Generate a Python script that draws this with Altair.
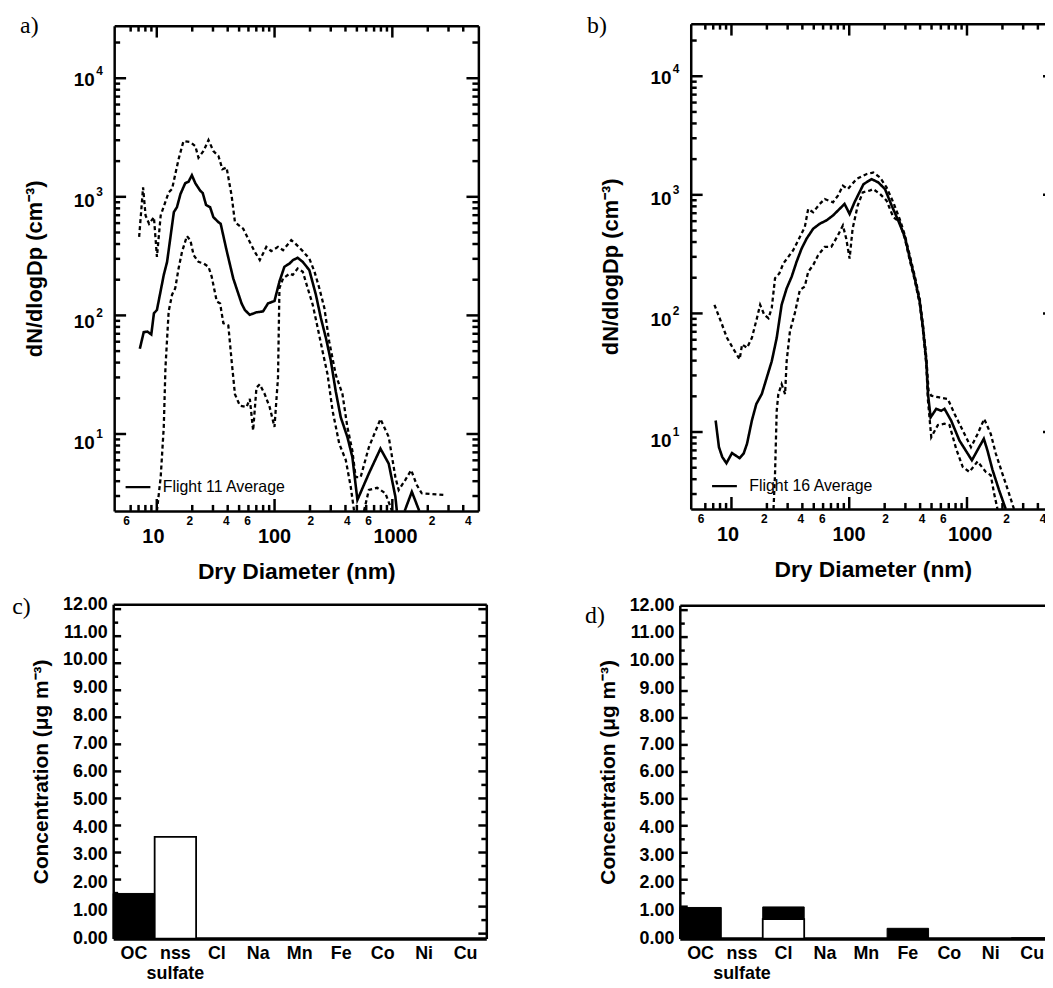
import altair as alt
import pandas as pd

# ---------------- data ----------------
A_MEAN_1_D = [7.8, 8.4, 9.0, 9.7, 10.2, 10.8, 12.3, 13.1, 14.9, 15.8, 16.9, 18.5, 19.7, 21.0, 22.4, 24.6,
              25.8, 27.5, 29.7, 31.6, 34.8, 36.3, 40.6, 46.1, 54.0, 57.5, 63.1, 71.6, 81.3, 89.3, 101, 111,
              122, 135, 143, 157, 173, 196, 222, 244, 269, 295, 324, 356, 404, 444, 489, 608, 758, 887,
              1007, 1035]
A_MEAN_1_N = [54, 74, 75, 71, 106, 113, 220, 282, 726, 798, 1025, 1260, 1295, 1466, 1260, 1093,
              1045, 832, 798, 660, 600, 582, 352, 206, 128, 113, 103, 108, 110, 128, 134, 194,
              257, 274, 291, 305, 282, 241, 151, 97, 66, 43, 24, 14.7, 10.1, 6.9, 3.05, 5.04, 8.08, 6.08,
              3.24, 2.47]
A_MEAN_2_D = [1202, 1377, 1585]
A_MEAN_2_N = [2.47, 3.56, 2.47]

A_UP_D = [7.7, 8.3, 8.7, 9.3, 10.2, 10.8, 11.6, 13.5, 14.4, 16.3, 17.9, 20.4, 22.4, 23.8, 26.2, 28.8,
          31.6, 34.8, 37.5, 40.6, 44.7, 47.6, 55.7, 61.2, 69.5, 76.4, 86.5, 95, 108, 119, 139, 150,
          173, 196, 216, 237, 261, 286, 324, 368, 404, 444, 473, 520, 608, 758, 887, 1007, 1072, 1214,
          1360, 1514, 1663, 2505]
A_UP_N = [453, 1163, 682, 582, 660, 310, 682, 1058, 1127, 1987, 2805, 2754, 2553, 2047, 2322, 2865,
          2322, 2113, 1643, 1698, 994, 601, 530, 438, 341, 292, 375, 346, 375, 352, 426, 400,
          346, 300, 235, 171, 117, 62, 33, 22.8, 12.2, 7.8, 4.7, 4.7, 8.3, 14.2, 10.1, 4.7, 3.68, 4.45,
          5.37, 4.04, 3.46, 3.35]

A_LO_1_D = [10.8, 11.6, 12.3, 12.7, 13.5, 14.4, 15.3, 16.3, 17.4, 19.1, 20.4, 21.7, 23.8, 26.2, 28.8,
            30.6, 33.7, 35.9, 38.2, 42.0, 44.7, 47.6, 52.3, 59.3, 63.2, 67.3, 71.7, 76.4, 83.9, 92.2,
            101, 108, 111, 119, 135, 143, 157, 173, 190, 209, 230, 252, 277, 305, 346, 392, 431, 459]
A_LO_1_N = [2.47, 4.7, 12.2, 37.7, 110, 151, 171, 249, 341, 461, 425, 321, 282, 274, 257,
            213, 133, 128, 88, 84, 43, 22.8, 18.3, 17.8, 20.8, 11.4, 25.8, 27.5, 22.8, 17.8,
            12.2, 31.2, 171, 206, 226, 220, 249, 234, 171, 125, 80, 51.6, 33.3, 16.6, 8.9, 6.5, 3.9, 2.47]
A_LO_2_D = [554, 608, 711, 832, 944]
A_LO_2_N = [2.47, 3.68, 3.84, 3.46, 2.47]

B_MEAN_D = [7.98, 8.5, 9.05, 9.8, 10.9, 11.6, 12.6, 13.6, 14.5, 15.9, 17.3, 19.2, 21.1, 23.2, 25.5,
            28.0, 30.8, 33.9, 37.2, 40.9, 45.0, 51.0, 57.8, 65.6, 74.4, 81.7, 92.7, 102, 112, 123,
            133, 155, 176, 200, 227, 257, 292, 321, 352, 387, 412, 439, 453, 476, 530,
            582, 620, 703, 823, 1044, 1310, 1405, 1545, 1750, 1985]
B_MEAN_N = [13.3, 8.0, 6.65, 5.9, 7.16, 6.86, 6.5, 7.1, 8.55, 13.3, 18.2, 22, 30, 41, 64,
            120, 164, 205, 272, 349, 422, 510, 561, 597, 657, 721, 817, 676, 844, 1019,
            1192, 1310, 1231, 1084, 793, 597, 436, 290, 199, 128, 77, 41, 22, 14.1, 16.6,
            16, 16.6, 13.3, 9.1, 6.24, 9.4, 7.5, 5.2, 3.54, 2.47]

B_UP_D = [7.8, 8.8, 9.9, 11.3, 12.6, 13.2, 14.5, 15.9, 17.5, 18.6, 20.1, 21.8, 23.2, 24.7, 26.8,
          28.9, 31.8, 34.9, 39.6, 43.5, 46.4, 51.0, 57.8, 63.5, 74.4, 81.7, 89.8, 98.6, 116, 140,
          160, 182, 206, 234, 265, 292, 321, 352, 387, 412, 439, 458, 482, 565, 661, 750,
          877, 1026, 1164, 1320, 1495, 1644, 1864, 2113, 2323]
B_UP_N = [120, 88, 64, 51, 42.6, 56.5, 53, 64, 93, 120, 99.5, 93, 113, 199, 218,
          263, 299, 339, 436, 526, 743, 698, 817, 898, 844, 957, 1156, 1084, 1310, 1439,
          1486, 1352, 1120, 844, 610, 450, 305, 208, 135, 82, 44, 23.4, 21.3, 20.6, 20, 15.1,
          11, 8.0, 10.3, 13.7, 10.3, 7.1, 4.85, 3.33, 2.47]

B_LO_D = [24.0, 24.7, 25.5, 26.3, 28.0, 29.9, 30.8, 32.8, 36.0, 39.6, 43.5, 46.4, 51.0, 56.0, 63.5,
          72.0, 81.7, 89.8, 95.7, 102, 108, 119, 131, 149, 160, 182, 206, 234, 265, 292,
          321, 352, 387, 412, 439, 453, 482, 547, 620, 682, 773, 877, 995, 1164, 1361,
          1495, 1592, 1698]
B_LO_N = [2.47, 4.85, 16, 22, 26.5, 22, 41, 72.6, 102.5, 159, 170, 225, 255, 308, 361,
          361, 450, 543, 422, 289, 510, 793, 1019, 1052, 1084, 987, 871, 636, 580, 420,
          278, 192, 122, 73, 38, 19.4, 9.7, 12.2, 12.5, 12.2, 7.8, 5.5, 5.0, 6.1, 5.0,
          4.7, 3.33, 2.47]

CATS = ["OC", "nss sulfate", "Cl", "Na", "Mn", "Fe", "Co", "Ni", "Cu"]
C_LIGHT = [0, 3.65, 0, 0, 0, 0, 0, 0, 0]
C_DARK = [1.62, 0, 0, 0, 0, 0, 0, 0, 0]
D_LIGHT = [0, 0, 0.70, 0, 0, 0, 0, 0, 0]
D_DARK = [1.12, 0, 0.44, 0, 0, 0.37, 0, 0, 0.03]

X_MINOR_TICKS = [6, 7, 8, 9, 20, 30, 40, 50, 60, 70, 80, 90, 200, 300, 400, 500, 600, 700, 800,
                 900, 2000, 3000, 4000]
X_MAJOR = [10, 100, 1000]
X_MAJOR_LABELS = ["10", "100", "1000"]
X_MINOR_VALUES = [6, 20, 40, 60, 200, 400, 600, 2000, 4000]
X_MINOR_LABELS = ["6", "2", "4", "6", "2", "4", "6", "2", "4"]
Y_MINOR_TICKS = [3, 4, 5, 6, 7, 8, 9, 20, 30, 40, 50, 60, 70, 80, 90, 200, 300, 400, 500, 600,
                 700, 800, 900, 2000, 3000, 4000, 5000, 6000, 7000, 8000, 9000, 20000]
Y_MAJOR = [10, 100, 1000, 10000]
Y_MAJOR_BASE = ["10", "10", "10", "10"]
Y_MAJOR_EXP = ["1", "2", "3", "4"]
BAR_MAJOR = [0, 1, 2, 3, 4, 5, 6, 7, 8, 9, 10, 11, 12]
BAR_MINOR = [0.5, 1.5, 2.5, 3.5, 4.5, 5.5, 6.5, 7.5, 8.5, 9.5, 10.5, 11.5]

FONT = "Liberation Sans"
SERIF = "Liberation Serif"
W, H = 1045, 980
M = 8
TICK_W = 2.5
FRAME_W = 2.5


def label_expr(values, labels):
    expr = "''"
    for v, lab in reversed(list(zip(values, labels))):
        expr = f"datum.value == {v} ? '{lab}' : {expr}"
    return expr


def ax(**kw):
    base = dict(grid=False, domainColor="black", tickColor="black", labelColor="black",
                titleColor="black", labelFont=FONT, titleFont=FONT, labelFontWeight="bold",
                titleFontWeight="bold", labelFlush=False, labelOverlap=False, ticks=False,
                domainWidth=FRAME_W, title=None)
    base.update(kw)
    return alt.Axis(**base)


def letter_title(letter, tx, ty):
    return dict(title=letter, titleFont=SERIF, titleFontWeight="normal", titleFontSize=24,
                titleX=tx, titleY=ty, titleAlign="center", titleBaseline="middle", titleAngle=0)


def line_df(segments, series=None):
    rows = []
    for i, (ds, ns) in enumerate(segments):
        for d, n in zip(ds, ns):
            rows.append({"D": d, "N": n, "seg": i, "series": series or "band"})
    return pd.DataFrame(rows)


def tick_bars(values, scale_fn, channel, frac_scale_fn, f0, f1):
    """Inward tick marks as thin bars: value on the panel scale, extent as a fraction
    of the panel's other dimension."""
    df = pd.DataFrame({"v": values, "f0": [f0] * len(values), "f1": [f1] * len(values)})
    if channel == "x":
        enc = dict(x=alt.X("v:Q", scale=scale_fn(), axis=None),
                   y=alt.Y("f0:Q", scale=frac_scale_fn(), axis=None), y2="f1:Q")
    else:
        enc = dict(y=alt.Y("v:Q", scale=scale_fn(), axis=None),
                   x=alt.X("f0:Q", scale=frac_scale_fn(), axis=None), x2="f1:Q")
    return alt.Chart(df).mark_bar(color="black", size=TICK_W, opacity=1).encode(**enc)


def log_panel(L, R, T, B, xdom, ydom, mean_segs, up_segs, lo_segs, name, letter, letter_xy,
              legend_xy, ytitle_cx):
    l, r, t, b = L - M, R - M, T - M, B - M

    def xs():
        return alt.Scale(type="log", domain=xdom, range=[l, r], clamp=True, nice=False)

    def ys():
        return alt.Scale(type="log", domain=ydom, range=[b, t], clamp=True, nice=False)

    def fx():
        return alt.Scale(type="linear", domain=[0, 1], range=[l, r], nice=False, zero=False)

    def fy():
        return alt.Scale(type="linear", domain=[0, 1], range=[b, t], nice=False, zero=False)

    mean = line_df(mean_segs, name)
    up = line_df(up_segs)
    lo = line_df(lo_segs)

    def axl(xaxis, yaxis):
        return alt.Chart(mean).mark_point(opacity=0).encode(
            x=alt.X("D:Q", scale=xs(), axis=xaxis),
            y=alt.Y("N:Q", scale=ys(), axis=yaxis))

    hx = b - t
    wx = r - l
    layers = [
        axl(ax(orient="bottom", offset=b - H, values=X_MINOR_VALUES,
               labelExpr=label_expr(X_MINOR_VALUES, X_MINOR_LABELS),
               labelFontSize=12, labelPadding=5),
            ax(orient="left", offset=-l, values=Y_MAJOR,
               labelExpr=label_expr(Y_MAJOR, Y_MAJOR_BASE),
               labelFontSize=19, labelPadding=20, labelOffset=5,
               title="dN/dlogDp (cm\u207b\u00b3)", titleFontSize=22, titleAngle=270,
               titleX=ytitle_cx - L, titleY=(t + b) / 2, titleAlign="center",
               titleBaseline="middle")),
        axl(ax(orient="bottom", offset=b - H, values=X_MAJOR,
               labelExpr=label_expr(X_MAJOR, X_MAJOR_LABELS), domain=False,
               labelFontSize=20, labelPadding=16, title="Dry Diameter (nm)", titleFontSize=23,
               titleX=(l + r) / 2, titleY=61, titleAlign="center", titleBaseline="middle"),
            ax(orient="left", offset=-l, values=Y_MAJOR,
               labelExpr=label_expr(Y_MAJOR, Y_MAJOR_EXP), domain=False,
               labelFontSize=12, labelPadding=12, labelOffset=-4)),
        axl(ax(orient="bottom", offset=t - H, labels=False,
               **letter_title(letter, letter_xy[0] - M, letter_xy[1] - T)),
            ax(orient="left", offset=-r, labels=False)),
    ]
    for df in (up, lo):
        layers.append(alt.Chart(df).mark_line(color="black", strokeWidth=2.3, strokeDash=[4, 3]).encode(
            x=alt.X("D:Q", scale=xs(), axis=None),
            y=alt.Y("N:Q", scale=ys(), axis=None),
            detail="seg:N"))
    layers.append(alt.Chart(mean).mark_line(color="black", strokeWidth=2.6).encode(
        x=alt.X("D:Q", scale=xs(), axis=None),
        y=alt.Y("N:Q", scale=ys(), axis=None),
        detail="seg:N",
        strokeDash=alt.StrokeDash("series:N", scale=alt.Scale(domain=[name], range=[[1, 0]]),
                                  legend=alt.Legend(orient="none", legendX=legend_xy[0] - M,
                                                    legendY=legend_xy[1] - M, title=None,
                                                    symbolType="stroke", symbolSize=625,
                                                    symbolStrokeWidth=2.4, symbolStrokeColor="black",
                                                    labelFont=FONT, labelFontSize=16,
                                                    labelFontWeight="normal", labelColor="black",
                                                    labelOffset=11, padding=0))))
    layers += [
        tick_bars(X_MAJOR, xs, "x", fy, 0, 12 / hx),
        tick_bars(X_MINOR_TICKS, xs, "x", fy, 0, 6 / hx),
        tick_bars(X_MAJOR, xs, "x", fy, 1, 1 - 12 / hx),
        tick_bars(X_MINOR_TICKS, xs, "x", fy, 1, 1 - 6 / hx),
        tick_bars(Y_MAJOR, ys, "y", fx, 0, 12 / wx),
        tick_bars(Y_MINOR_TICKS, ys, "y", fx, 0, 6 / wx),
        tick_bars(Y_MAJOR, ys, "y", fx, 1, 1 - 12 / wx),
        tick_bars(Y_MINOR_TICKS, ys, "y", fx, 1, 1 - 6 / wx),
    ]
    return layers


def bar_panel(L, R, T, B, light, dark, letter, letter_xy, ytitle_cx):
    l, r, t, b = L - M, R - M, T - M, B - M

    def xs():
        return alt.Scale(type="band", domain=CATS, range=[l, r], paddingInner=0, paddingOuter=0)

    def ys():
        return alt.Scale(domain=[0, 12], range=[b, t], nice=False, zero=False)

    def fx():
        return alt.Scale(type="linear", domain=[0, 1], range=[l, r], nice=False, zero=False)

    base = pd.DataFrame({"cat": CATS, "lo": [0.0] * len(CATS), "hi": light})
    top = pd.DataFrame({"cat": CATS, "lo": light, "hi": [a + d for a, d in zip(light, dark)],
                        "dark": dark})

    def axl(xaxis, yaxis):
        return alt.Chart(base).mark_point(opacity=0).encode(
            x=alt.X("cat:N", scale=xs(), axis=xaxis),
            y=alt.Y("hi:Q", scale=ys(), axis=yaxis))

    wx = r - l
    layers = [
        axl(ax(orient="bottom", offset=t - H, labels=False,
               **letter_title(letter, letter_xy[0] - M, letter_xy[1] - T)),
            ax(orient="left", offset=-l, values=BAR_MAJOR, format=".2f",
               labelFontSize=18, labelPadding=6,
               title="Concentration (\u03bcg m\u207b\u00b3)", titleFontSize=21, titleAngle=270,
               titleX=ytitle_cx - L, titleY=(t + b) / 2, titleAlign="center",
               titleBaseline="middle")),
        axl(ax(orient="bottom", offset=b - H, domainWidth=3.5,
               labelExpr="split(datum.value, ' ')", labelFontSize=18, labelPadding=6,
               labelLineHeight=20, labelAngle=0),
            ax(orient="left", offset=-r, labels=False)),
        alt.Chart(base[base["hi"] > 0]).mark_bar(fill="white", stroke="black", strokeWidth=1.8).encode(
            x=alt.X("cat:N", scale=xs(), axis=None),
            y=alt.Y("hi:Q", scale=ys(), axis=None), y2="lo:Q"),
        alt.Chart(top[top["dark"] > 0]).mark_bar(fill="black", stroke="black", strokeWidth=1).encode(
            x=alt.X("cat:N", scale=xs(), axis=None),
            y=alt.Y("hi:Q", scale=ys(), axis=None), y2="lo:Q"),
        tick_bars(BAR_MAJOR, ys, "y", fx, 0, 8 / wx),
        tick_bars(BAR_MINOR, ys, "y", fx, 0, 5 / wx),
        tick_bars(BAR_MAJOR, ys, "y", fx, 1, 1 - 8 / wx),
        tick_bars(BAR_MINOR, ys, "y", fx, 1, 1 - 5 / wx),
    ]
    return layers


layers = []
layers += log_panel(115, 482, 22, 511, [4.79, 4880], [2.474, 25210],
                    [(A_MEAN_1_D, A_MEAN_1_N), (A_MEAN_2_D, A_MEAN_2_N)],
                    [(A_UP_D, A_UP_N)],
                    [(A_LO_1_D, A_LO_1_N), (A_LO_2_D, A_LO_2_N)],
                    "Flight 11 Average", "a)", (29, 22), (125, 473), 35)
layers += log_panel(696, 1063, 20, 509, [4.97, 5065], [2.474, 25210],
                    [(B_MEAN_D, B_MEAN_N)],
                    [(B_UP_D, B_UP_N)],
                    [(B_LO_D, B_LO_N)],
                    "Flight 16 Average", "b)", (601, 22), (716, 472), 615)
layers += bar_panel(114, 490, 605, 942, C_LIGHT, C_DARK, "c)", (21, 607), 42)
layers += bar_panel(685, 1061, 606, 942, D_LIGHT, D_DARK, "d)", (599, 616), 613)

chart = alt.layer(*layers).resolve_scale(
    x="independent", y="independent", strokeDash="independent"
).resolve_axis(x="independent", y="independent").resolve_legend(
    strokeDash="independent"
).properties(
    width=W, height=H, autosize=alt.AutoSizeParams(type="none"), padding=0, background="white"
).configure_view(strokeWidth=0, stroke="transparent")

chart.save("out.html", embed_options={"renderer": "svg", "actions": False})
